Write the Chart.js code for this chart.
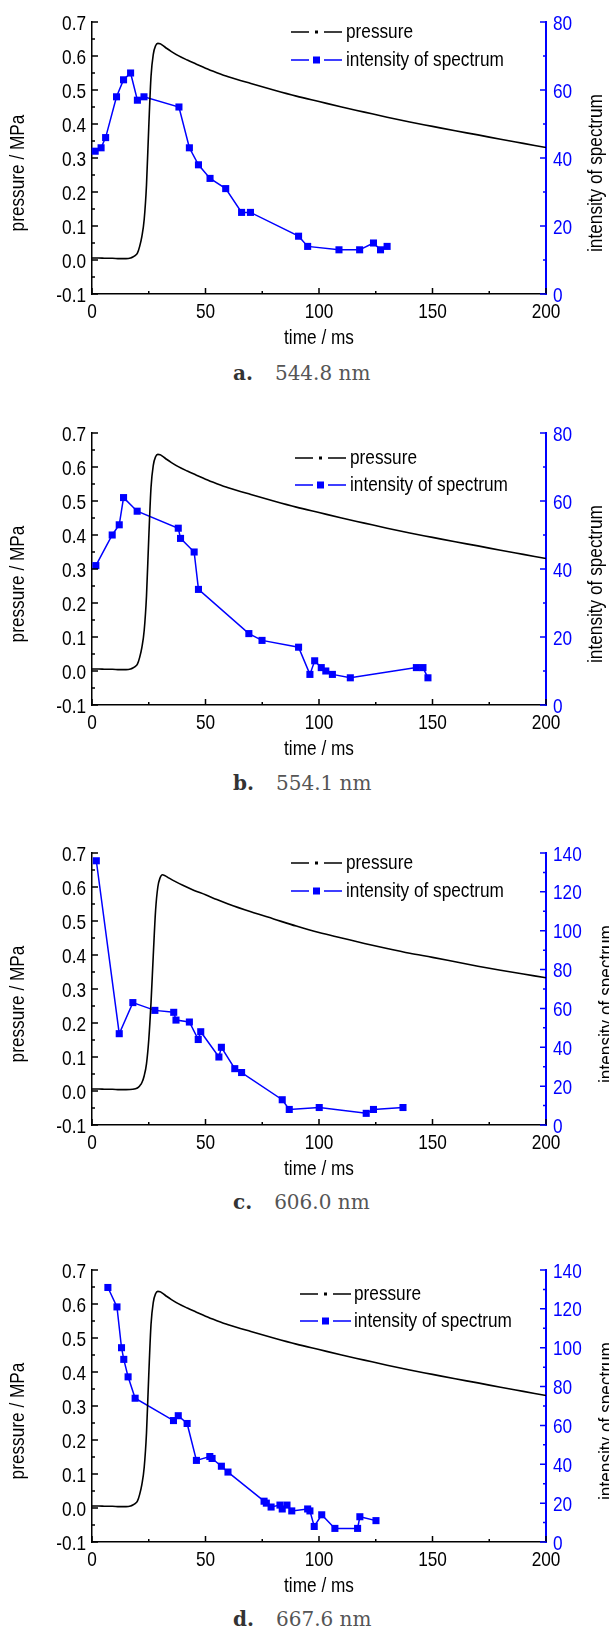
<!DOCTYPE html>
<html>
<head>
<meta charset="utf-8">
<script src="https://cdn.jsdelivr.net/npm/chart.js@4.4.0/dist/chart.umd.min.js"></script>
<style>
  html, body { margin: 0; padding: 0; background: #fff; }
  body { width: 609px; height: 1629px; position: relative; overflow: hidden; }
  canvas { position: absolute; left: 0; }
  .cap { position: absolute; left: 233px; font-family: 'DejaVu Serif', serif; font-size: 20px;
         line-height: 24px; color: #555; white-space: nowrap; }
  .cap b { color: #333; margin-right: 22px; }
</style>
</head>
<body>
<script>
// pressure trace (a, b, d)
const pressureTime = [0, 3, 6, 9, 12, 15, 17, 18, 19, 20, 21, 22, 23, 24, 25, 26, 27, 28, 29, 30, 31, 33, 35, 38, 42, 46, 50, 55, 60, 70, 80, 90, 100, 110, 120, 130, 140, 150, 160, 170, 180, 190, 200];
const pressureVal = [0.006, 0.006, 0.005, 0.005, 0.004, 0.004, 0.006, 0.009, 0.013, 0.02, 0.04, 0.07, 0.12, 0.22, 0.39, 0.54, 0.605, 0.63, 0.637, 0.636, 0.632, 0.622, 0.613, 0.601, 0.588, 0.576, 0.564, 0.551, 0.539, 0.519, 0.5, 0.482, 0.466, 0.45, 0.435, 0.42, 0.406, 0.393, 0.38, 0.368, 0.355, 0.343, 0.331];
// pressure trace of panel c (a bit later)
const pressureTimeC = [0, 3, 6, 9, 12, 15, 18, 20, 21, 22, 23, 24, 25, 26, 27, 28, 29, 30, 31, 32, 34, 37, 40, 45, 50, 55, 60, 70, 80, 90, 100, 110, 120, 130, 140, 150, 160, 170, 180, 190, 200];
const pressureValC = [0.006, 0.006, 0.005, 0.005, 0.004, 0.004, 0.005, 0.009, 0.015, 0.025, 0.045, 0.08, 0.15, 0.26, 0.4, 0.53, 0.6, 0.627, 0.636, 0.634, 0.626, 0.615, 0.605, 0.59, 0.577, 0.563, 0.55, 0.527, 0.506, 0.485, 0.466, 0.45, 0.434, 0.419, 0.405, 0.393, 0.38, 0.367, 0.355, 0.344, 0.333];

// intensity of spectrum
const timeA = [1.4, 4, 6, 10.8, 13.9, 17, 20, 22.9, 38.3, 42.9, 46.9, 52, 58.9, 65.9, 69.8, 91, 95, 108.8, 117.9, 124, 127.1, 130];
const intensA = [42, 43, 46, 58, 63, 65, 57, 58, 55, 43, 38, 34, 31, 24, 24, 17, 14, 13, 13, 15, 13, 14];
const timeB = [1.7, 8.9, 12, 13.9, 19.9, 38, 39, 45, 46.9, 69.1, 74.9, 91, 96, 98.1, 101, 103, 105.9, 113.8, 142.9, 145.8, 148];
const intensB = [41, 50, 53, 61, 57, 52, 49, 45, 34, 21, 19, 17, 9, 13, 11, 10, 9, 8, 11, 11, 8];
const timeC = [1.9, 12, 18, 27.7, 36, 37, 42.9, 46.8, 47.9, 55.9, 57, 62.9, 65.9, 83.8, 86.9, 100.1, 120.8, 124, 137];
const intensC = [136, 47, 63, 59, 58, 54, 53, 44, 48, 35, 40, 29, 27, 13, 8, 9, 6, 8, 9];
const timeD = [7, 11, 13, 14, 15.9, 19, 35.9, 38, 41.9, 46, 51.9, 52.9, 57, 59.9, 75.8, 76.8, 78.9, 82.8, 83.8, 85.9, 88, 95, 96, 97.9, 101.2, 107, 117, 118, 125.1];
const intensD = [131, 121, 100, 94, 85, 74, 62.5, 65, 61, 42, 44, 43, 39, 36, 21, 20, 18, 19, 17, 19, 16, 17, 16, 8, 14, 7, 7, 13, 11];

const panelLetters = ['a.', 'b.', 'c.', 'd.'];
const panelWaves = ['544.8 nm', '554.1 nm', '606.0 nm', '667.6 nm'];
const rightMax = [80, 80, 140, 140];

// layout (page pixels)
const plotTop = [22, 433, 853, 1270];
const captionMid = [373, 783, 1202, 1619];
const legendPos = [
  { x: 291, dy1: 10, dy2: 38, tx: 346 },
  { x: 295, dy1: 25, dy2: 52, tx: 350 },
  { x: 291, dy1: 10, dy2: 38, tx: 346 },
  { x: 300, dy1: 24, dy2: 51, tx: 354 }
];
const rightTitleX = [596, 596, 607, 607];

// Origin-style narrow lettering: Liberation Sans squeezed sideways
const FAM = '"Liberation Sans", Arial, sans-serif';
const FS = 21;
const SX = 0.82;
const BLUE = '#0000ff';

function say(ctx, s, x, y, align, rot) {
  ctx.save();
  ctx.translate(x, y);
  if (rot) ctx.rotate(-Math.PI / 2);
  ctx.scale(SX, 1);
  ctx.textAlign = align;
  ctx.fillText(s, 0, 0);
  ctx.restore();
}

const deco = {
  id: 'deco',
  afterDraw(chart, args, o) {
    const ctx = chart.ctx;
    const { left, right, top, bottom } = chart.chartArea;
    const sx = chart.scales.x, sy = chart.scales.y, sr = chart.scales.y1;
    ctx.save();
    ctx.lineWidth = 1.5;
    // inward ticks, minor ones half way
    function marks(scale, color, draw) {
      const vals = scale.ticks.map(t => t.value);
      ctx.strokeStyle = color;
      ctx.beginPath();
      vals.forEach((v, k) => {
        draw(scale.getPixelForValue(v), 6);
        if (k < vals.length - 1) draw(scale.getPixelForValue((v + vals[k + 1]) / 2), 3);
      });
      ctx.stroke();
    }
    marks(sx, '#000', (p, l) => { ctx.moveTo(p, bottom); ctx.lineTo(p, bottom - l); });
    marks(sy, '#000', (p, l) => { ctx.moveTo(left, p); ctx.lineTo(left + l, p); });
    marks(sr, BLUE, (p, l) => { ctx.moveTo(right, p); ctx.lineTo(right - l, p); });

    // tick labels
    ctx.font = FS + 'px ' + FAM;
    ctx.textBaseline = 'alphabetic';
    const dy = 7.5;
    ctx.fillStyle = '#000';
    sx.ticks.forEach(t => say(ctx, t.label, sx.getPixelForValue(t.value), bottom + 16 + dy, 'center'));
    sy.ticks.forEach(t => say(ctx, t.label, left - 6, sy.getPixelForValue(t.value) + dy, 'right'));
    ctx.fillStyle = BLUE;
    sr.ticks.forEach(t => say(ctx, t.label, right + 7, sr.getPixelForValue(t.value) + dy, 'left'));

    // axis titles
    ctx.fillStyle = '#000';
    ctx.textBaseline = 'middle';
    say(ctx, 'time / ms', (left + right) / 2, bottom + 44, 'center');
    const midY = (top + bottom) / 2 + 15;
    say(ctx, 'pressure / MPa', 18, midY, 'center', true);
    say(ctx, 'intensity of spectrum', o.rightTitleX, midY, 'center', true);

    // legend
    const L = o.legend;
    const y1 = top + L.dy1, y2 = top + L.dy2;
    ctx.lineWidth = 1.5;
    ctx.strokeStyle = '#000';
    ctx.beginPath();
    ctx.moveTo(L.x, y1); ctx.lineTo(L.x + 18, y1);
    ctx.moveTo(L.x + 33, y1); ctx.lineTo(L.x + 51, y1);
    ctx.stroke();
    ctx.fillStyle = '#000';
    ctx.fillRect(L.x + 24, y1 - 1.5, 3, 3);
    ctx.strokeStyle = BLUE;
    ctx.beginPath();
    ctx.moveTo(L.x, y2); ctx.lineTo(L.x + 18, y2);
    ctx.moveTo(L.x + 33, y2); ctx.lineTo(L.x + 51, y2);
    ctx.stroke();
    ctx.fillStyle = BLUE;
    ctx.fillRect(L.x + 22, y2 - 3.5, 7, 7);
    ctx.fillStyle = '#000';
    say(ctx, 'pressure', L.tx, y1, 'left');
    say(ctx, 'intensity of spectrum', L.tx, y2, 'left');
    ctx.restore();
  }
};

function pts(xs, ys) { return xs.map((x, i) => ({ x: x, y: ys[i] })); }

const series = [
  { pt: pressureTime, pv: pressureVal, t: timeA, v: intensA },
  { pt: pressureTime, pv: pressureVal, t: timeB, v: intensB },
  { pt: pressureTimeC, pv: pressureValC, t: timeC, v: intensC },
  { pt: pressureTime, pv: pressureVal, t: timeD, v: intensD }
];

series.forEach((s, i) => {
  const cv = document.createElement('canvas');
  cv.width = 609; cv.height = 354;
  cv.style.top = (plotTop[i] - 22) + 'px';
  document.body.appendChild(cv);

  const cap = document.createElement('div');
  cap.className = 'cap';
  cap.style.top = (captionMid[i] - 12) + 'px';
  cap.innerHTML = '<b>' + panelLetters[i] + '</b>' + panelWaves[i];
  document.body.appendChild(cap);

  new Chart(cv, {
    type: 'line',
    data: {
      datasets: [
        {
          label: 'pressure',
          data: pts(s.pt, s.pv),
          yAxisID: 'y',
          borderColor: '#000',
          borderWidth: 1.6,
          pointRadius: 0,
          cubicInterpolationMode: 'monotone',
          clip: false
        },
        {
          label: 'intensity of spectrum',
          data: pts(s.t, s.v),
          yAxisID: 'y1',
          borderColor: BLUE,
          backgroundColor: BLUE,
          borderWidth: 1.5,
          pointStyle: 'rect',
          pointRadius: 5,
          pointBorderWidth: 0,
          pointBackgroundColor: BLUE,
          tension: 0,
          clip: false
        }
      ]
    },
    options: {
      responsive: false,
      animation: false,
      devicePixelRatio: 1,
      layout: { padding: { top: 22, left: 0, right: 0, bottom: 0 } },
      plugins: {
        legend: { display: false },
        tooltip: { enabled: false },
        deco: { legend: legendPos[i], rightTitleX: rightTitleX[i] }
      },
      scales: {
        x: {
          type: 'linear', min: 0, max: 200,
          ticks: { stepSize: 50, display: false },
          grid: { display: false, drawTicks: false },
          border: { display: true, color: '#000', width: 1.5 },
          afterFit: sc => { sc.height = 60; }
        },
        y: {
          position: 'left', min: -0.1, max: 0.7,
          ticks: { stepSize: 0.1, display: false,
                   callback: v => (Math.abs(v) < 1e-9 ? 0 : v).toFixed(1) },
          grid: { display: false, drawTicks: false },
          border: { display: true, color: '#000', width: 1.5 },
          afterFit: sc => { sc.width = 92; }
        },
        y1: {
          position: 'right', min: 0, max: rightMax[i],
          ticks: { stepSize: 20, display: false },
          grid: { display: false, drawTicks: false },
          border: { display: true, color: BLUE, width: 2 },
          afterFit: sc => { sc.width = 63; }
        }
      }
    },
    plugins: [deco]
  });
});
</script>
</body>
</html>
